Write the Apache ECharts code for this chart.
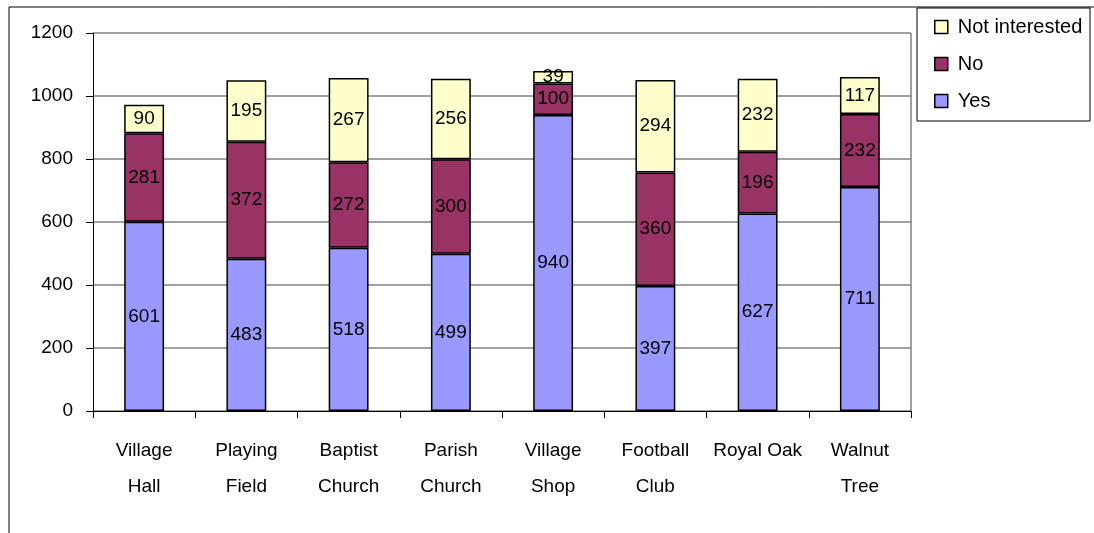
<!DOCTYPE html>
<html>
<head>
<meta charset="utf-8">
<script src="https://cdn.jsdelivr.net/npm/echarts@6/dist/echarts.min.js"></script>
<style>
  html, body { margin: 0; padding: 0; background: #fff; }
  #main { width: 1094px; height: 533px; }
</style>
</head>
<body>
<div id="main"></div>
<script>
var categories = ['Village\nHall', 'Playing\nField', 'Baptist\nChurch', 'Parish\nChurch', 'Village\nShop', 'Football\nClub', 'Royal Oak', 'Walnut\nTree'];
var yesData = [601, 483, 518, 499, 940, 397, 627, 711];
var noData = [281, 372, 272, 300, 100, 360, 196, 232];
var notInterestedData = [90, 195, 267, 256, 39, 294, 232, 117];

var font = 'Liberation Sans';
var chart = echarts.init(document.getElementById('main'));

function barSeries(name, data, color) {
  return {
    name: name,
    type: 'bar',
    stack: 'total',
    data: data,
    barWidth: '39%',
    itemStyle: { color: color, borderColor: '#000', borderWidth: 1.5 },
    label: { show: true, position: 'inside', color: '#000', fontFamily: font, fontSize: 19 }
  };
}

chart.setOption({
  animation: false,
  grid: { left: 93, right: 183, top: 33, bottom: 122 },
  graphic: [
    { type: 'rect', shape: { x: 9, y: 7, width: 1100, height: 540 }, style: { fill: 'none', stroke: '#000', lineWidth: 1 } },
    { type: 'rect', shape: { x: 911, y: 33, width: 0, height: 378 }, style: { fill: 'none', stroke: '#808080', lineWidth: 1.5 } },
    { type: 'rect', shape: { x: 917, y: 8, width: 173, height: 113 }, style: { fill: '#fff', stroke: '#000', lineWidth: 1 } }
  ],
  legend: {
    orient: 'vertical',
    left: 929,
    top: 12,
    itemGap: 17,
    itemWidth: 13,
    itemHeight: 13,
    icon: 'rect',
    data: ['Not interested', 'No', 'Yes'],
    itemStyle: { borderColor: '#000', borderWidth: 1.5 },
    textStyle: { fontFamily: font, fontSize: 20, color: '#000', padding: [0, 0, 0, 5] }
  },
  xAxis: {
    type: 'category',
    data: categories,
    axisLine: { lineStyle: { color: '#000', width: 1 } },
    axisTick: { show: true, length: 7, lineStyle: { color: '#000' } },
    axisLabel: { interval: 0, fontFamily: font, fontSize: 19, color: '#000', lineHeight: 36, margin: 22 }
  },
  yAxis: {
    type: 'value',
    min: 0,
    max: 1200,
    interval: 200,
    axisLine: { show: true, lineStyle: { color: '#000', width: 1 } },
    axisTick: { show: true, length: 7, lineStyle: { color: '#000' } },
    splitLine: { lineStyle: { color: '#808080', width: 1.5 } },
    axisLabel: { fontFamily: font, fontSize: 19, color: '#000', margin: 20, formatter: function (v) { return String(v); } }
  },
  series: [
    barSeries('Yes', yesData, '#9999FF'),
    barSeries('No', noData, '#993366'),
    barSeries('Not interested', notInterestedData, '#FFFFCC')
  ]
});
</script>
</body>
</html>
